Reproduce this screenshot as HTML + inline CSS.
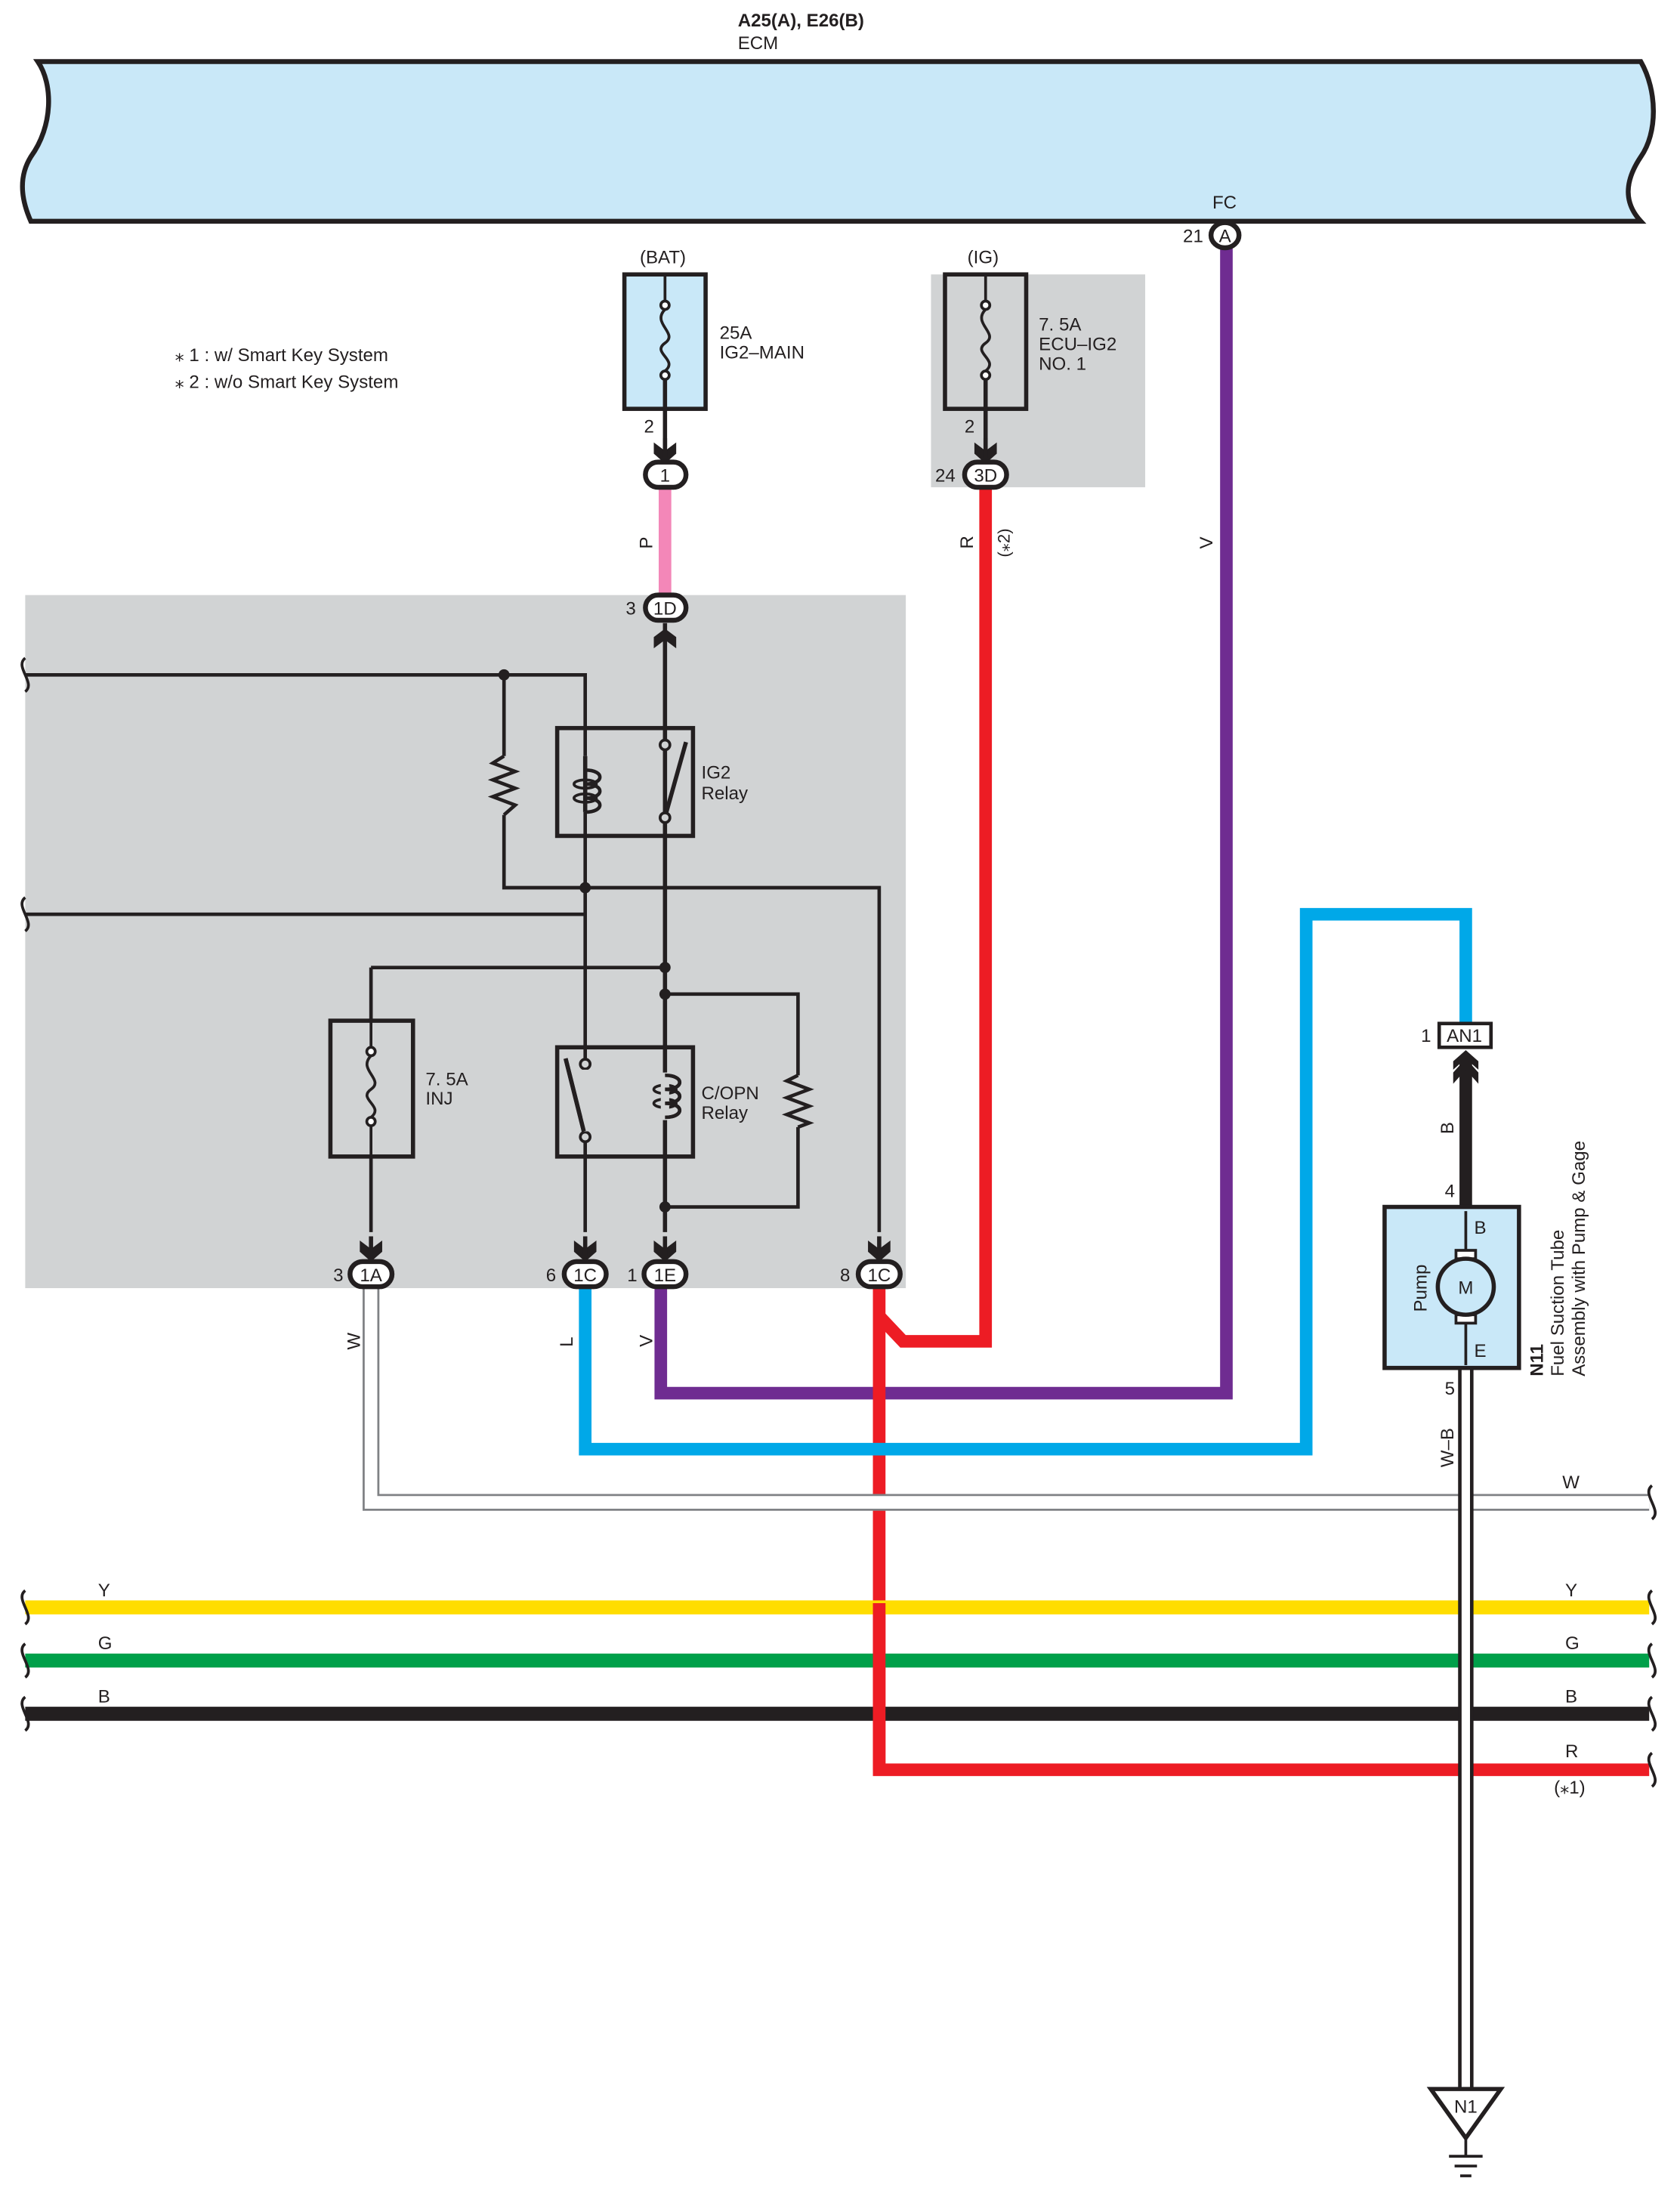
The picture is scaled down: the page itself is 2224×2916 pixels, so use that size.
<!DOCTYPE html>
<html><head><meta charset="utf-8"><style>html,body{margin:0;padding:0;background:#fff}svg{display:block}text{font-family:"Liberation Sans",sans-serif;font-size:13px;fill:#231f20}</style></head><body>
<svg width="2224" height="2916" viewBox="0 0 1200 1573.4" xmlns="http://www.w3.org/2000/svg">
<defs>
<g id="chd"><polygon points="-8,-11 0,-5 8,-11 8,-3 0,4 -8,-3" fill="#231f20"/><line x1="0" y1="-14" x2="0" y2="0" stroke="#231f20" stroke-width="3"/></g>
<g id="fuse"><circle cx="0" cy="-25" r="3" fill="#fff" stroke="#231f20" stroke-width="2"/><circle cx="0" cy="25" r="3" fill="#fff" stroke="#231f20" stroke-width="2"/><path d="M0,-22 C-10,-12 10,-5 0,2 C-10,9 10,14 0,22" fill="none" stroke="#231f20" stroke-width="2"/></g>
<path id="sq" d="M0,-12 C-8,-6 8,6 0,12" fill="none" stroke="#231f20" stroke-width="2"/>
</defs>
<!-- title -->
<text x="527" y="19" style="font-weight:bold">A25(A), E26(B)</text>
<text x="527" y="35">ECM</text>
<!-- ECM -->
<path d="M27,44 L1172,44 C1184,65 1184,95 1172,112 C1160,130 1160,145 1172,158 L22,158 C14,140 14,125 22,112 C38,90 38,60 27,44 Z" fill="#c9e8f8" stroke="#231f20" stroke-width="3.5"/>
<text x="866" y="149">FC</text>
<text x="845" y="173">21</text>
<!-- gray boxes -->
<rect x="665" y="196" width="153" height="152" fill="#d1d3d4"/>
<rect x="18" y="425" width="629" height="495" fill="#d1d3d4"/>
<!-- legend -->
<text x="125" y="258">⁎ 1 : w/ Smart Key System</text>
<text x="125" y="277">⁎ 2 : w/o Smart Key System</text>
<!-- colored wires -->
<polyline points="876,177 876,995 472,995 472,918" fill="none" stroke="#6f2c91" stroke-width="9"/>
<line x1="475" y1="348" x2="475" y2="426" stroke="#f387b8" stroke-width="9"/>
<polyline points="704,348 704,958 645,958 628,940" fill="none" stroke="#ed1c24" stroke-width="9"/>
<polyline points="628,918 628,1264 1178,1264" fill="none" stroke="#ed1c24" stroke-width="9"/>
<polyline points="418,918 418,1035 933,1035 933,653 1047,653 1047,731" fill="none" stroke="#00a8e8" stroke-width="9"/>
<line x1="18" y1="1148" x2="1178" y2="1148" stroke="#ffdd00" stroke-width="10"/>
<line x1="18" y1="1186" x2="1178" y2="1186" stroke="#00a04a" stroke-width="10"/>
<line x1="18" y1="1224" x2="1178" y2="1224" stroke="#231f20" stroke-width="10"/>
<line x1="628" y1="1145" x2="628" y2="1264" stroke="#ed1c24" stroke-width="9"/>
<!-- W wire -->
<polyline points="265,918 265,1073 1178,1073" fill="none" stroke="#808285" stroke-width="12"/>
<polyline points="265,918 265,1073 1178,1073" fill="none" stroke="#fff" stroke-width="9"/>
<!-- W-B wire -->
<line x1="1047" y1="977" x2="1047" y2="1492" stroke="#231f20" stroke-width="11"/>
<line x1="1047" y1="977" x2="1047" y2="1492" stroke="#fff" stroke-width="6"/>
<!-- B wire -->
<line x1="1047" y1="755" x2="1047" y2="862" stroke="#231f20" stroke-width="9"/>
<!-- squiggles -->
<use href="#sq" x="18" y="482"/><use href="#sq" x="18" y="653"/>
<use href="#sq" x="18" y="1148"/><use href="#sq" x="18" y="1186"/><use href="#sq" x="18" y="1224"/>
<use href="#sq" x="1180" y="1073"/><use href="#sq" x="1180" y="1148"/><use href="#sq" x="1180" y="1186"/><use href="#sq" x="1180" y="1224"/><use href="#sq" x="1180" y="1264"/>
<!-- wire labels -->
<g>
<text transform="translate(466,392) rotate(-90)">P</text>
<text transform="translate(695,392) rotate(-90)">R</text>
<text transform="translate(721,398) rotate(-90)" style="font-size:12px">(⁎2)</text>
<text transform="translate(866,392) rotate(-90)">V</text>
<text transform="translate(257,964) rotate(-90)">W</text>
<text transform="translate(409,962) rotate(-90)">L</text>
<text transform="translate(466,962) rotate(-90)">V</text>
<text transform="translate(1038,810) rotate(-90)">B</text>
<text transform="translate(1038,1048) rotate(-90)">W–B</text>
</g>
<text x="1116" y="1063">W</text>
<text x="70" y="1140">Y</text><text x="1118" y="1140">Y</text>
<text x="70" y="1178">G</text><text x="1118" y="1178">G</text>
<text x="70" y="1216">B</text><text x="1118" y="1216">B</text>
<text x="1118" y="1255">R</text><text x="1110" y="1281">(⁎1)</text>
<!-- BAT fuse -->
<text x="457" y="188">(BAT)</text>
<rect x="446" y="196" width="58" height="96" fill="#c9e8f8" stroke="#231f20" stroke-width="3"/>
<line x1="475" y1="196" x2="475" y2="218" stroke="#231f20" stroke-width="2"/>
<line x1="475" y1="268" x2="475" y2="320" stroke="#231f20" stroke-width="3"/>
<use href="#fuse" x="475" y="243"/>
<text x="514" y="242">25A</text><text x="514" y="256">IG2–MAIN</text>
<text x="460" y="309">2</text>
<use href="#chd" x="475" y="327"/>
<!-- IG fuse -->
<text x="691" y="188">(IG)</text>
<rect x="675" y="196" width="58" height="96" fill="#d1d3d4" stroke="#231f20" stroke-width="3"/>
<line x1="704" y1="196" x2="704" y2="218" stroke="#231f20" stroke-width="2"/>
<line x1="704" y1="268" x2="704" y2="320" stroke="#231f20" stroke-width="3"/>
<use href="#fuse" x="704" y="243"/>
<text x="742" y="236">7. 5A</text><text x="742" y="250">ECU–IG2</text><text x="742" y="264">NO. 1</text>
<text x="689" y="309">2</text>
<use href="#chd" x="704" y="327"/>
<text x="668" y="344">24</text>
<!-- connectors -->
<g stroke="#231f20" stroke-width="3.5" fill="#fff">
<ellipse cx="875" cy="168" rx="10" ry="9"/>
<rect x="461" y="330" width="29" height="18" rx="9"/>
<rect x="689" y="330" width="30" height="18" rx="9"/>
<rect x="461" y="425" width="29" height="18" rx="9"/>
<rect x="250" y="901" width="30" height="18" rx="9"/>
<rect x="403" y="901" width="30" height="18" rx="9"/>
<rect x="460" y="901" width="30" height="18" rx="9"/>
<rect x="613" y="901" width="30" height="18" rx="9"/>
<rect x="1028" y="731" width="37" height="17" stroke-width="2.5"/>
</g>
<g style="font-size:13px" text-anchor="middle">
<text x="875" y="173">A</text>
<text x="475" y="344">1</text><text x="704" y="344">3D</text><text x="475" y="439">1D</text>
<text x="265" y="915">1A</text><text x="418" y="915">1C</text><text x="475" y="915">1E</text><text x="628" y="915">1C</text>
<text x="1046" y="744">AN1</text>
</g>
<text x="447" y="439">3</text><text x="238" y="915">3</text><text x="390" y="915">6</text><text x="448" y="915">1</text><text x="600" y="915">8</text><text x="1015" y="744">1</text>
<!-- inner wiring -->
<g fill="none" stroke="#231f20" stroke-width="2.5">
<polyline points="18,482 418,482 418,540"/>
<polyline points="360,482 360,540"/><polyline points="360,582 360,634 628,634 628,880"/>
<polyline points="360,540 352,545 368,551 352,557 368,563 352,569 368,575 360,582"/>
<polyline points="418,580 418,880"/>
<polyline points="18,653 418,653"/>
<polyline points="265,691 475,691"/><polyline points="265,691 265,745"/><polyline points="265,806 265,880"/>
<polyline points="475,710 570,710 570,768"/><polyline points="570,805 570,862 475,862"/>
<polyline points="570,768 562,772 578,778 562,784 578,790 562,796 578,802 570,805"/>
</g>
<g fill="none" stroke="#231f20" stroke-width="3">
<line x1="475" y1="445" x2="475" y2="880"/>
<line x1="418" y1="540" x2="418" y2="580"/>
</g>
<!-- up chevron under 1D -->
<polygon points="467,455 475,449 483,455 483,463 475,457 467,463" fill="#231f20"/>
<!-- IG2 relay -->
<rect x="398" y="520" width="97" height="77" fill="none" stroke="#231f20" stroke-width="3"/>
<path d="M418,550 c14,0 14,10 0,10 c14,0 14,10 0,10 c14,0 14,10 0,10" fill="none" stroke="#231f20" stroke-width="2.5"/>
<ellipse cx="418" cy="560" rx="8" ry="3" fill="none" stroke="#231f20" stroke-width="2"/><ellipse cx="418" cy="570" rx="8" ry="3" fill="none" stroke="#231f20" stroke-width="2"/>
<circle cx="475" cy="532" r="3.5" fill="#d1d3d4" stroke="#231f20" stroke-width="2"/>
<circle cx="475" cy="584" r="3.5" fill="#d1d3d4" stroke="#231f20" stroke-width="2"/>
<line x1="476" y1="580" x2="490" y2="530" stroke="#231f20" stroke-width="3"/>
<text x="501" y="556">IG2</text><text x="501" y="571">Relay</text>
<!-- C/OPN relay -->
<rect x="398" y="748" width="97" height="78" fill="none" stroke="#231f20" stroke-width="3"/>
<path d="M475,768 c14,0 14,10 0,10 c14,0 14,10 0,10 c14,0 14,10 0,10" fill="none" stroke="#231f20" stroke-width="2.5"/>
<ellipse cx="475" cy="778" rx="8" ry="3" fill="none" stroke="#231f20" stroke-width="2"/><ellipse cx="475" cy="788" rx="8" ry="3" fill="none" stroke="#231f20" stroke-width="2"/>
<rect x="472" y="766" width="6" height="34" fill="#d1d3d4"/>
<path d="M475,768 c14,0 14,10 0,10 c14,0 14,10 0,10 c14,0 14,10 0,10" fill="none" stroke="#231f20" stroke-width="2.5"/>
<circle cx="418" cy="760" r="3.5" fill="#d1d3d4" stroke="#231f20" stroke-width="2"/>
<circle cx="418" cy="812" r="3.5" fill="#d1d3d4" stroke="#231f20" stroke-width="2"/>
<line x1="404" y1="756" x2="417" y2="808" stroke="#231f20" stroke-width="3"/>
<rect x="416" y="764" width="4" height="44" fill="#d1d3d4"/>
<line x1="404" y1="756" x2="417" y2="808" stroke="#231f20" stroke-width="3"/>
<text x="501" y="785">C/OPN</text><text x="501" y="799">Relay</text>
<!-- INJ fuse -->
<rect x="236" y="729" width="59" height="97" fill="#d1d3d4" stroke="#231f20" stroke-width="3"/>
<line x1="265" y1="729" x2="265" y2="751" stroke="#231f20" stroke-width="2"/>
<line x1="265" y1="801" x2="265" y2="826" stroke="#231f20" stroke-width="2"/>
<use href="#fuse" x="265" y="776"/>
<text x="304" y="775">7. 5A</text><text x="304" y="789">INJ</text>
<!-- junction dots -->
<g fill="#231f20"><circle cx="360" cy="482" r="4"/><circle cx="418" cy="634" r="4"/><circle cx="475" cy="691" r="4"/><circle cx="475" cy="710" r="4"/><circle cx="475" cy="862" r="4"/></g>
<!-- down chevrons -->
<use href="#chd" x="265" y="897"/><use href="#chd" x="418" y="897"/><use href="#chd" x="475" y="897"/><use href="#chd" x="628" y="897"/>
<!-- AN1 up chevron -->
<polygon points="1038,766 1047,756 1056,766 1056,774 1047,764 1038,774" fill="#231f20"/>
<polygon points="1038,758 1047,750 1056,758 1056,764 1047,756 1038,764" fill="#231f20"/>
<!-- pump -->
<text x="1032" y="855">4</text>
<rect x="989" y="862" width="96" height="115" fill="#c9e8f8" stroke="#231f20" stroke-width="3"/>
<rect x="1040" y="893" width="14" height="6" fill="#fff" stroke="#231f20" stroke-width="2"/>
<rect x="1040" y="939" width="14" height="6" fill="#fff" stroke="#231f20" stroke-width="2"/>
<line x1="1047" y1="865" x2="1047" y2="893" stroke="#231f20" stroke-width="2"/>
<line x1="1047" y1="945" x2="1047" y2="975" stroke="#231f20" stroke-width="2"/>
<circle cx="1047" cy="919" r="20" fill="#c9e8f8" stroke="#231f20" stroke-width="3"/>
<text x="1047" y="924" text-anchor="middle">M</text>
<text transform="translate(1019,937) rotate(-90)">Pump</text>
<text x="1053" y="881">B</text><text x="1053" y="969">E</text>
<text x="1032" y="996">5</text>
<text transform="translate(1102,983) rotate(-90)" style="font-weight:bold">N11</text>
<text transform="translate(1117,983) rotate(-90)">Fuel Suction Tube</text>
<text transform="translate(1132,983) rotate(-90)">Assembly with Pump &amp; Gage</text>
<!-- ground -->
<polygon points="1022,1492 1072,1492 1047,1527" fill="#fff" stroke="#231f20" stroke-width="3"/>
<text x="1047" y="1509" text-anchor="middle">N1</text>
<g stroke="#231f20" stroke-width="2"><line x1="1047" y1="1527" x2="1047" y2="1540"/><line x1="1035" y1="1540" x2="1059" y2="1540"/><line x1="1039" y1="1547" x2="1055" y2="1547"/><line x1="1043" y1="1554" x2="1051" y2="1554"/></g>
</svg>
</body></html>
